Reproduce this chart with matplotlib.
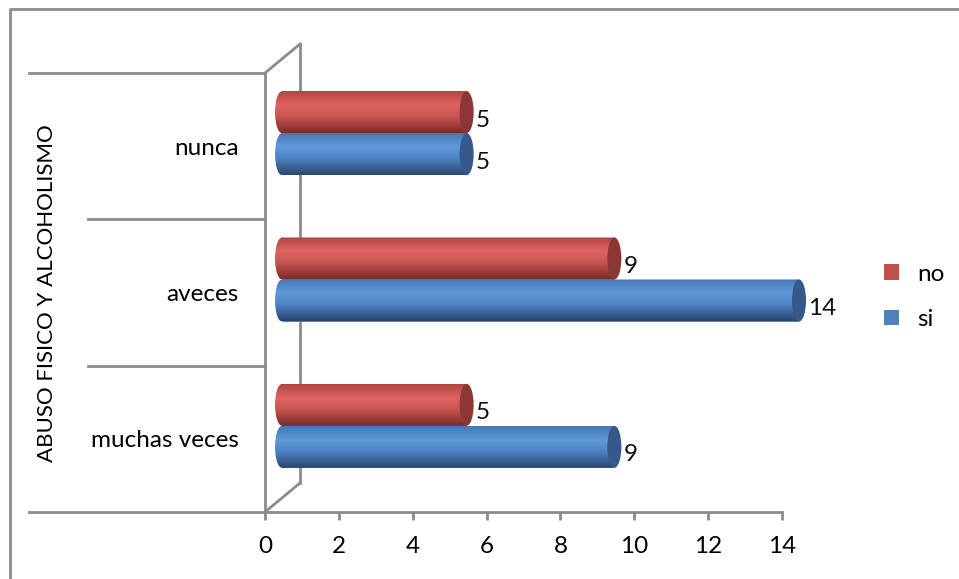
import numpy as np
import matplotlib
matplotlib.use("Agg")
import matplotlib.pyplot as plt
from matplotlib.path import Path
from matplotlib.patches import Ellipse
from matplotlib.transforms import offset_copy, Affine2D, blended_transform_factory
from matplotlib.lines import Line2D

categories = ["muchas veces", "aveces", "nunca"]
series_names = ["si", "no"]
si_values = [9, 14, 5]
no_values = [5, 9, 5]
x_ticks = [0, 2, 4, 6, 8, 10, 12, 14]
y_title = "ABUSO FISICO Y ALCOHOLISMO"

plt.rcParams["font.family"] = ["Lato", "DejaVu Sans"]
FS = 17.5

W, H = 959, 579
fig = plt.figure(figsize=(W / 100, H / 100), dpi=100)
ax = fig.add_axes([265 / W, 1 - 512 / H, (782 - 265) / W, (512 - 73) / H])
ax.set_xlim(0, 14)
ax.set_ylim(-0.5, 2.5)

px_x = (782 - 265) / 14          # pixels per x unit
px_y = (512 - 73) / 3            # pixels per category

GRID = "#8c8c8c"

# 3d look: bars sit halfway into the depth, walls at full depth
bar_tr = offset_copy(ax.transData, fig, x=17, y=13, units="dots")
back_dx, back_dy = 35 / px_x, 29 / px_y

# walls
ax.plot([back_dx, back_dx], [-0.5 + back_dy, 2.5 + back_dy], color=GRID, lw=2, clip_on=False, zorder=1)
ax.plot([0, back_dx], [2.5, 2.5 + back_dy], color=GRID, lw=2, clip_on=False, zorder=1)
ax.plot([0, back_dx], [-0.5, -0.5 + back_dy], color=GRID, lw=2, clip_on=False, zorder=1)

# category separators reaching into the label area
sep_tr = blended_transform_factory(fig.transFigure, ax.transData)
for yy, x0 in [(-0.5, 29), (0.5, 88), (1.5, 88), (2.5, 29)]:
    ax.plot([x0 / W, 265 / W], [yy, yy], color=GRID, lw=2, transform=sep_tr, clip_on=False)

bar_h = 42 / px_y
cap_w = 14 / px_x

styles = {
    "no": dict(base="#C0504D", stops=["#b24543", "#df6360", "#c95552", "#7c2b29"], cap="#8a3735"),
    "si": dict(base="#4F81BD", stops=["#4677b5", "#5f9ada", "#4e83c2", "#2a4770"], cap="#35598a"),
}


def gradient_img(stops):
    cols = np.array([matplotlib.colors.to_rgb(c) for c in stops])
    pos = np.array([0.0, 0.33, 0.6, 1.0])
    t = np.linspace(0, 1, 64)
    img = np.stack([np.interp(t, pos, cols[:, k]) for k in range(3)], axis=1)
    return img[:, None, :]


y = np.arange(len(categories))
offsets = {"no": bar_h / 2, "si": -bar_h / 2}
for name, vals in [("no", no_values), ("si", si_values)]:
    st = styles[name]
    bars = ax.barh(y + offsets[name], vals, height=bar_h, color=st["base"],
                   transform=bar_tr, label=name, zorder=3, clip_on=False)
    for i, (rect, v) in enumerate(zip(bars, vals)):
        yc = rect.get_y() + bar_h / 2
        y0, y1 = yc - bar_h / 2, yc + bar_h / 2
        body = Path([(0, y0), (v, y0), (v, y1), (0, y1), (0, y0)])
        left = Path.unit_circle().transformed(Affine2D().scale(cap_w / 2, bar_h / 2).translate(0, yc))
        clip = Path.make_compound_path(body, left)
        im = ax.imshow(gradient_img(st["stops"]), extent=(-cap_w / 2, v, y0, y1),
                       origin="upper", aspect="auto", transform=bar_tr, zorder=3.1,
                       interpolation="bilinear")
        im.set_clip_box(fig.bbox)
        im.set_clip_path(clip, bar_tr)
        ax.add_patch(Ellipse((v, yc), cap_w, bar_h, transform=bar_tr, clip_on=False,
                             facecolor=st["cap"], edgecolor="none", zorder=3.2))
        ax.annotate(str(v), (v, y[i]), xytext=(26, 5 + offsets[name] * px_y),
                    textcoords="offset pixels", ha="left", va="center", fontsize=FS,
                    color="#111111", annotation_clip=False)

ax.set_xlim(0, 14)
ax.set_ylim(-0.5, 2.5)

for s in ["top", "right", "left"]:
    ax.spines[s].set_visible(False)
ax.spines["bottom"].set_color(GRID)
ax.spines["bottom"].set_linewidth(2)
ax.plot([0, 0], [-0.5, 2.5], color=GRID, lw=2, clip_on=False, zorder=2)

ax.set_xticks(x_ticks)
ax.set_xticklabels([str(t) for t in x_ticks], fontsize=FS)
ax.tick_params(axis="x", length=6, width=2, color=GRID, pad=11)
ax.set_yticks(y)
ax.set_yticklabels(categories, fontsize=FS)
ax.tick_params(axis="y", length=0, pad=19)
ax.patch.set_visible(False)

fig.text(47 / W, 1 - 293 / H, y_title, rotation=90, ha="center", va="center", fontsize=16)

handles, labels = ax.get_legend_handles_labels()
order = [labels.index("no"), labels.index("si")]
fig.legend([handles[k] for k in order], [labels[k] for k in order],
           loc="center left", bbox_to_anchor=(862 / W, 1 - 297 / H), frameon=False,
           fontsize=FS, handlelength=0.62, handleheight=0.62, handletextpad=0.75, labelspacing=1.0)

# outer frame
fig.add_artist(Line2D([10 / W, 10 / W, 1], [0, 1 - 9 / H, 1 - 9 / H], transform=fig.transFigure,
                      color="#8c8c8c", lw=2))

fig.savefig("out.png", dpi=100)
